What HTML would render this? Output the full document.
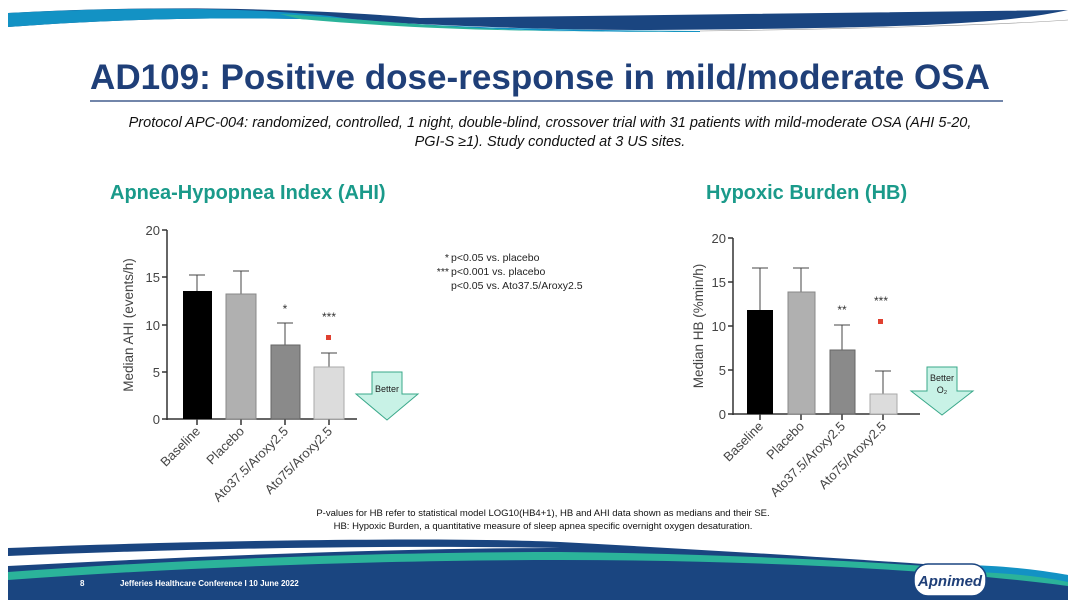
<!DOCTYPE html>
<html><head><meta charset="utf-8"><style>
html,body{margin:0;padding:0;background:#fff;}
svg{display:block;}
text{font-family:"Liberation Sans",Arial,sans-serif;}
</style></head><body>
<svg width="1071" height="607" viewBox="0 0 1071 607" xmlns="http://www.w3.org/2000/svg">
<!-- top band -->
<path d="M8,13 C150,5 300,8 420,18 L1068,10 C1000,25 900,28 650,30 C500,30 400,22 300,19 C200,17 100,20 8,27 Z" fill="#1a4580"/>
<path d="M8,13 C150,6 250,8 330,16 C380,24 500,30 700,31 L700,32 C450,32 380,22 300,19 C200,17 100,20 8,27 Z" fill="#1392c4"/>
<path d="M280,14 C350,18 420,26 520,30 C620,33 700,31 700,31 C560,33 420,30 300,19 Z" fill="#2bb39a"/>
<path d="M700,31 C850,29 1000,25 1068,20" stroke="#999" stroke-width="0.6" fill="none"/>

<!-- title -->
<text x="540" y="89" text-anchor="middle" font-size="35" font-weight="bold" fill="#1f3f78" textLength="900" lengthAdjust="spacingAndGlyphs">AD109: Positive dose-response in mild/moderate OSA</text>
<line x1="90" y1="101" x2="1003" y2="101" stroke="#1f3f78" stroke-width="1.2"/>
<text x="550" y="127" text-anchor="middle" font-size="14.5" font-style="italic" fill="#111">Protocol APC-004: randomized, controlled, 1 night, double-blind, crossover trial with 31 patients with mild-moderate OSA (AHI 5-20,</text>
<text x="550" y="146" text-anchor="middle" font-size="14.5" font-style="italic" fill="#111">PGI-S ≥1). Study conducted at 3 US sites.</text>

<text x="110" y="199" font-size="20" font-weight="bold" fill="#1a9a8a">Apnea-Hypopnea Index (AHI)</text>
<text x="706" y="199" font-size="20" font-weight="bold" fill="#1a9a8a">Hypoxic Burden (HB)</text>

<!-- AHI chart -->
<g stroke="#333" stroke-width="1.5" fill="none">
<line x1="167" y1="230" x2="167" y2="420"/>
<line x1="167" y1="419" x2="357" y2="419"/>
<line x1="162" y1="230" x2="167" y2="230"/><line x1="162" y1="277" x2="167" y2="277"/><line x1="162" y1="325" x2="167" y2="325"/><line x1="162" y1="372" x2="167" y2="372"/><line x1="162" y1="419" x2="167" y2="419"/>
<line x1="197" y1="419" x2="197" y2="425"/><line x1="241" y1="419" x2="241" y2="425"/><line x1="285" y1="419" x2="285" y2="425"/><line x1="329" y1="419" x2="329" y2="425"/>
</g>
<g font-size="13" fill="#444" text-anchor="end">
<text x="160" y="235">20</text><text x="160" y="282">15</text><text x="160" y="330">10</text><text x="160" y="377">5</text><text x="160" y="424">0</text>
</g>
<text transform="translate(133,325) rotate(-90)" text-anchor="middle" font-size="13.5" fill="#444">Median AHI (events/h)</text>
<g stroke="#444" stroke-width="1">
<line x1="197" y1="291" x2="197" y2="275"/><line x1="189" y1="275" x2="205" y2="275"/>
<line x1="241" y1="294" x2="241" y2="271"/><line x1="233" y1="271" x2="249" y2="271"/>
<line x1="285" y1="345" x2="285" y2="323"/><line x1="277" y1="323" x2="293" y2="323"/>
<line x1="329" y1="367" x2="329" y2="353"/><line x1="321" y1="353" x2="337" y2="353"/>
</g>
<rect x="183" y="291" width="29" height="128" fill="#000"/>
<rect x="226" y="294" width="30" height="125" fill="#b0b0b0" stroke="#888"/>
<rect x="271" y="345" width="29" height="74" fill="#8a8a8a" stroke="#666"/>
<rect x="314" y="367" width="30" height="52" fill="#dcdcdc" stroke="#aaa"/>
<text x="285" y="313" text-anchor="middle" font-size="12" fill="#333">*</text>
<text x="329" y="321" text-anchor="middle" font-size="12" fill="#333">***</text>
<rect x="326" y="335" width="5" height="5" fill="#e04030"/>
<g font-size="13" fill="#444" text-anchor="end">
<text transform="translate(201,432) rotate(-45)">Baseline</text>
<text transform="translate(245,432) rotate(-45)">Placebo</text>
<text transform="translate(289,432) rotate(-45)">Ato37.5/Aroxy2.5</text>
<text transform="translate(333,432) rotate(-45)">Ato75/Aroxy2.5</text>
</g>
<path d="M372,372 L402,372 L402,394 L418,394 L387,420 L356,394 L372,394 Z" fill="#c8f2e6" stroke="#3aa88a" stroke-width="1"/>
<text x="387" y="392" text-anchor="middle" font-size="9" fill="#222">Better</text>

<!-- legend -->
<g font-size="10.5" fill="#222">
<text x="449" y="261" text-anchor="end">*</text><text x="451" y="261">p&lt;0.05 vs. placebo</text>
<text x="449" y="275" text-anchor="end">***</text><text x="451" y="275">p&lt;0.001 vs. placebo</text>
<text x="451" y="289">p&lt;0.05 vs. Ato37.5/Aroxy2.5</text>
</g>

<!-- HB chart -->
<g stroke="#333" stroke-width="1.5" fill="none">
<line x1="733" y1="238" x2="733" y2="415"/>
<line x1="733" y1="414" x2="920" y2="414"/>
<line x1="728" y1="238" x2="733" y2="238"/><line x1="728" y1="282" x2="733" y2="282"/><line x1="728" y1="326" x2="733" y2="326"/><line x1="728" y1="370" x2="733" y2="370"/><line x1="728" y1="414" x2="733" y2="414"/>
<line x1="760" y1="414" x2="760" y2="420"/><line x1="801" y1="414" x2="801" y2="420"/><line x1="842" y1="414" x2="842" y2="420"/><line x1="883" y1="414" x2="883" y2="420"/>
</g>
<g font-size="13" fill="#444" text-anchor="end">
<text x="726" y="243">20</text><text x="726" y="287">15</text><text x="726" y="331">10</text><text x="726" y="375">5</text><text x="726" y="419">0</text>
</g>
<text transform="translate(703,326) rotate(-90)" text-anchor="middle" font-size="13.5" fill="#444">Median HB (%min/h)</text>
<g stroke="#444" stroke-width="1">
<line x1="760" y1="310" x2="760" y2="268"/><line x1="752" y1="268" x2="768" y2="268"/>
<line x1="801" y1="292" x2="801" y2="268"/><line x1="793" y1="268" x2="809" y2="268"/>
<line x1="842" y1="350" x2="842" y2="325"/><line x1="834" y1="325" x2="850" y2="325"/>
<line x1="883" y1="394" x2="883" y2="371"/><line x1="875" y1="371" x2="891" y2="371"/>
</g>
<rect x="747" y="310" width="26" height="104" fill="#000"/>
<rect x="788" y="292" width="27" height="122" fill="#b0b0b0" stroke="#888"/>
<rect x="830" y="350" width="25" height="64" fill="#8a8a8a" stroke="#666"/>
<rect x="870" y="394" width="27" height="20" fill="#dcdcdc" stroke="#aaa"/>
<text x="842" y="314" text-anchor="middle" font-size="12" fill="#333">**</text>
<text x="881" y="305" text-anchor="middle" font-size="12" fill="#333">***</text>
<rect x="878" y="319" width="5" height="5" fill="#e04030"/>
<g font-size="13" fill="#444" text-anchor="end">
<text transform="translate(764,427) rotate(-45)">Baseline</text>
<text transform="translate(805,427) rotate(-45)">Placebo</text>
<text transform="translate(846,427) rotate(-45)">Ato37.5/Aroxy2.5</text>
<text transform="translate(887,427) rotate(-45)">Ato75/Aroxy2.5</text>
</g>
<path d="M927,367 L957,367 L957,391 L973,391 L942,415 L911,391 L927,391 Z" fill="#c8f2e6" stroke="#3aa88a" stroke-width="1"/>
<text x="942" y="381" text-anchor="middle" font-size="9" fill="#222">Better</text>
<text x="942" y="393" text-anchor="middle" font-size="9" fill="#222">O₂</text>

<!-- footnotes -->
<text x="543" y="516" text-anchor="middle" font-size="9.5" fill="#111">P-values for HB refer to statistical model LOG10(HB4+1), HB and AHI data shown as medians and their SE.</text>
<text x="543" y="529" text-anchor="middle" font-size="9.5" fill="#111">HB: Hypoxic Burden, a quantitative measure of sleep apnea specific overnight oxygen desaturation.</text>

<!-- footer -->
<path d="M8,548 C200,540 450,537 560,542 C750,552 950,565 1068,575 L1068,600 L8,600 Z" fill="#1a4580"/>
<path d="M8,572 C200,558 400,552 560,552 C750,554 950,565 1068,578 L1068,586 C950,570 750,560 560,560 C400,560 200,566 8,580 Z" fill="#2bb39a"/>
<path d="M8,556 C200,548 400,545 560,548 C400,548 200,556 8,566 Z" fill="#fff"/>
<path d="M960,565 C1000,565 1040,570 1068,575 L1068,582 C1040,576 1000,572 960,572 Z" fill="#1392c4"/>
<text x="80" y="586" font-size="8" font-weight="bold" fill="#fff">8</text>
<text x="120" y="586" font-size="8" font-weight="bold" fill="#fff">Jefferies Healthcare Conference I 10 June 2022</text>
<rect x="914" y="564" width="72" height="32" rx="14" fill="#fff" stroke="#1a4580" stroke-width="1.5"/>
<text x="950" y="586" text-anchor="middle" font-size="15" font-weight="bold" font-style="italic" fill="#1f3f78">Apnimed</text>
</svg>
</body></html>
